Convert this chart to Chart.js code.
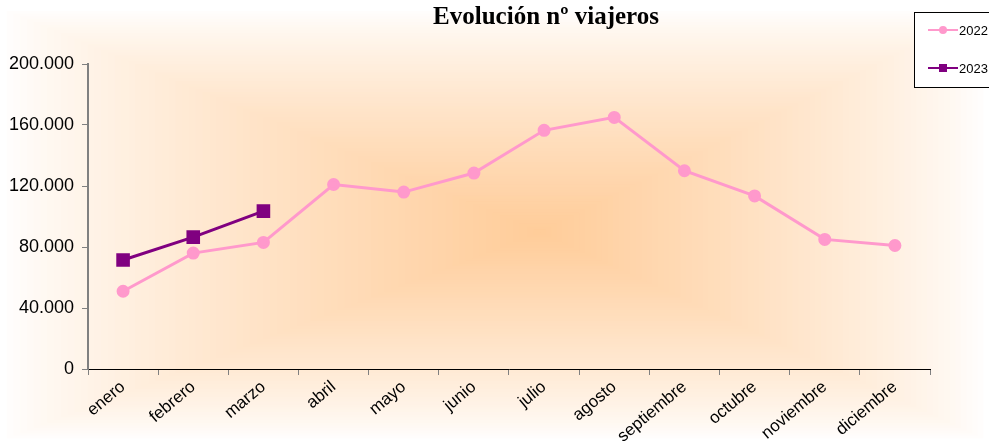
<!DOCTYPE html>
<html>
<head>
<meta charset="utf-8">
<script src="https://cdn.jsdelivr.net/npm/chart.js@4"></script>
<style>
  html, body { margin: 0; padding: 0; background: #fff; }
  #wrap { width: 989px; height: 441px; }
</style>
</head>
<body>
<div id="wrap"><canvas id="viajeros-chart" width="989" height="441"></canvas></div>
<script>
// Datos del gráfico
const meses = ['enero', 'febrero', 'marzo', 'abril', 'mayo', 'junio', 'julio', 'agosto', 'septiembre', 'octubre', 'noviembre', 'diciembre'];
const viajeros2022 = [51000, 76000, 83000, 121000, 116000, 128500, 156500, 165000, 130000, 113500, 85000, 81000];
const viajeros2023 = [71500, 86500, 103500];
const ticksY = [0, 40000, 80000, 120000, 160000, 200000];

function formatoMiles(v) {
  return String(v).replace(/\B(?=(\d{3})+(?!\d))/g, '.');
}

// Fondo con degradado rectangular desde el centro
const fondoPlugin = {
  id: 'fondo',
  beforeDraw(chart) {
    const ctx = chart.ctx;
    const W = chart.width, H = chart.height;
    const cx = 540, cy = 232;
    const steps = 80;
    ctx.save();
    for (let i = 0; i <= steps; i++) {
      const t = i / steps;
      const x0 = t * cx, x1 = W - t * (W - cx);
      const y0 = 8 + t * (cy - 8), y1 = H - t * (H - cy);
      const k = Math.pow(t, 0.8);
      const g = Math.round(255 - k * (255 - 204));
      const b = Math.round(255 - k * (255 - 153));
      ctx.fillStyle = `rgb(255,${g},${b})`;
      ctx.fillRect(x0, y0, Math.max(x1 - x0, 1), Math.max(y1 - y0, 1));
    }
    ctx.restore();
  },
  afterDraw(chart) {
    const ctx = chart.ctx;
    ctx.save();
    // Título
    ctx.fillStyle = '#000';
    ctx.font = 'bold 25px "Liberation Serif", "Times New Roman", serif';
    ctx.textAlign = 'center';
    ctx.textBaseline = 'alphabetic';
    ctx.fillText('Evolución nº viajeros', 546, 24);

    // Leyenda
    ctx.fillStyle = '#fff';
    ctx.fillRect(914, 12, 80, 75);
    ctx.strokeStyle = '#000';
    ctx.lineWidth = 1;
    ctx.strokeRect(914.5, 12.5, 80, 75);
    ctx.font = '13px "Liberation Sans", Arial, sans-serif';
    ctx.textAlign = 'left';
    ctx.textBaseline = 'middle';
    chart.data.datasets.forEach((ds, i) => {
      const y = 30 + i * 38;
      ctx.strokeStyle = ds.borderColor;
      ctx.lineWidth = 2;
      ctx.beginPath();
      ctx.moveTo(928, y);
      ctx.lineTo(958, y);
      ctx.stroke();
      ctx.fillStyle = ds.borderColor;
      if (ds.pointStyle === 'rect') {
        ctx.fillRect(939, y - 4, 8, 8);
      } else {
        ctx.beginPath();
        ctx.arc(943, y, 4, 0, Math.PI * 2);
        ctx.fill();
      }
      ctx.fillStyle = '#000';
      ctx.fillText(ds.label, 959, y + 1);
    });
    ctx.restore();
  }
};

const ctx = document.getElementById('viajeros-chart').getContext('2d');
const chart = new Chart(ctx, {
  type: 'line',
  data: {
    labels: meses,
    datasets: [{
      label: '2022',
      data: viajeros2022,
      borderColor: '#FF99CC',
      backgroundColor: '#FF99CC',
      borderWidth: 3,
      pointStyle: 'circle',
      pointRadius: 5,
      pointHoverRadius: 5,
      tension: 0
    }, {
      label: '2023',
      data: viajeros2023,
      borderColor: '#800080',
      backgroundColor: '#800080',
      borderWidth: 3,
      pointStyle: 'rect',
      pointRadius: 7.5,
      pointHoverRadius: 7.5,
      tension: 0
    }]
  },
  options: {
    responsive: false,
    animation: false,
    layout: { padding: { top: 64, right: 59, left: 0, bottom: 0 } },
    plugins: {
      legend: { display: false },
      title: { display: false },
      tooltip: { enabled: false }
    },
    scales: {
      x: {
        offset: true,
        grid: {
          offset: true,
          drawOnChartArea: false,
          drawTicks: true,
          tickLength: 6,
          color: '#808080'
        },
        border: { color: '#000', width: 1 },
        ticks: {
          color: '#000',
          font: { family: '"Liberation Sans", Arial, sans-serif', size: 17 },
          minRotation: 40,
          maxRotation: 40,
          padding: 2,
          autoSkip: false
        },
        afterFit(scale) { scale.height = 72; }
      },
      y: {
        min: 0,
        max: 200000,
        afterBuildTicks(scale) { scale.ticks = ticksY.map(v => ({ value: v })); },
        grid: {
          drawOnChartArea: false,
          drawTicks: true,
          tickLength: 6,
          color: '#808080'
        },
        border: { color: '#808080', width: 2 },
        ticks: {
          color: '#000',
          font: { family: '"Liberation Sans", Arial, sans-serif', size: 18 },
          padding: 8,
          callback: v => formatoMiles(v)
        },
        afterFit(scale) { scale.width = 88; }
      }
    }
  },
  plugins: [fondoPlugin]
});
</script>
</body>
</html>
